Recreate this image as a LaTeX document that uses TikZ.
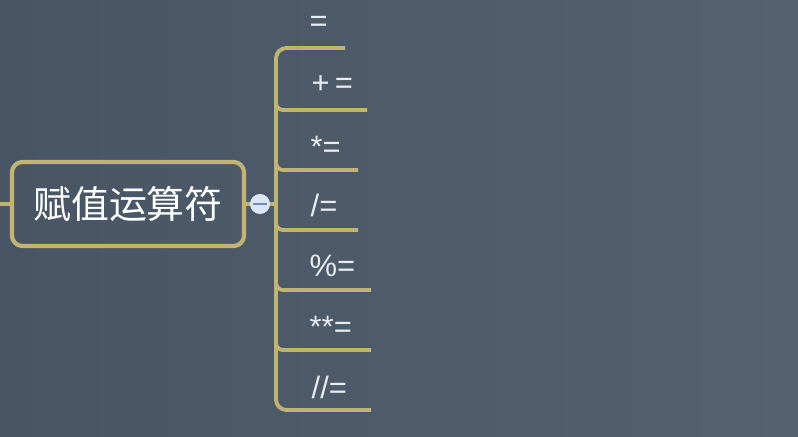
\documentclass[tikz,border=0pt]{standalone}
\usepackage{fontspec}
\setmainfont{Liberation Sans}
\newfontfamily\cjk{Noto Sans CJK SC}
\definecolor{bgleft}{RGB}{72,85,100}
\definecolor{bgright}{RGB}{84,97,113}
\definecolor{branch}{RGB}{192,180,112}
\definecolor{foldfill}{RGB}{218,230,248}
\definecolor{foldmark}{RGB}{120,140,170}
\definecolor{optext}{RGB}{232,236,240}
\tikzset{
  branchline/.style={line width=1.1pt, draw=branch},
  rootbox/.style={draw=branch, line width=1.2pt, rounded corners=3pt,
    minimum width=2.32cm, minimum height=0.84cm, text=white,
    font=\cjk\fontsize{10.8}{13}\selectfont},
  oplabel/.style={anchor=west, text=optext, inner sep=0pt,
    font=\fontsize{8.8}{10}\selectfont},
  foldbtn/.style={circle, fill=foldfill, minimum size=0.2cm, inner sep=0pt}
}
\begin{document}
\begin{tikzpicture}[x=0.01cm, y=-0.01cm]
    \shade[left color=bgleft, right color=bgright] (0, 0) rectangle (798, 437);
    \useasboundingbox (0, 0) rectangle (798, 437);
        % root and fold button
        \coordinate (in) at (0, 204);
        \node[rootbox] (root) at (128, 204) {赋值运算符};
        \draw[branchline] (in) -- (root);
        \coordinate (stemtop) at (276, 48);
        \coordinate (stembot) at (276, 410);
        \coordinate (stemmid) at (276, 204);
        \draw[branchline] (root) -- (stemmid);
        \node[foldbtn] (fold) at (260, 204) {};
        \draw[foldmark, line width=0.6pt] ([xshift=-2pt]fold.center) -- ([xshift=2pt]fold.center);
        % underline ends
        \coordinate (u1) at (345, 48);
        \coordinate (u2) at (367, 110);
        \coordinate (u3) at (358, 170);
        \coordinate (u4) at (358, 230);
        \coordinate (u5) at (371, 290);
        \coordinate (u6) at (371, 350);
        \coordinate (u7) at (371, 410);
        \coordinate (b2) at (276, 110);
        \coordinate (b3) at (276, 170);
        \coordinate (b4) at (276, 230);
        \coordinate (b5) at (276, 290);
        \coordinate (b6) at (276, 350);
        % bracket
        \draw[branchline, rounded corners=3pt] (u1) -| (stembot) -- (u7);
        \draw[branchline, rounded corners=2pt] ([yshift=5pt]b2) |- (u2);
        \draw[branchline, rounded corners=2pt] ([yshift=5pt]b3) |- (u3);
        \draw[branchline, rounded corners=2pt] ([yshift=5pt]b4) |- (u4);
        \draw[branchline, rounded corners=2pt] ([yshift=5pt]b5) |- (u5);
        \draw[branchline, rounded corners=2pt] ([yshift=5pt]b6) |- (u6);
        % operators
        \node[oplabel] (eq)  at (309, 24)  {=};
        \node[oplabel] (add) at (311, 85)  {+\,=};
        \node[oplabel] (mul) at (310, 147) {*=};
        \node[oplabel] (div) at (310, 205) {/=};
        \node[oplabel] (mod) at (309, 266) {\%=};
        \node[oplabel] (pow) at (309, 327) {**=};
        \node[oplabel] (fdv) at (311, 387) {//=};
    \end{tikzpicture}
\end{document}
